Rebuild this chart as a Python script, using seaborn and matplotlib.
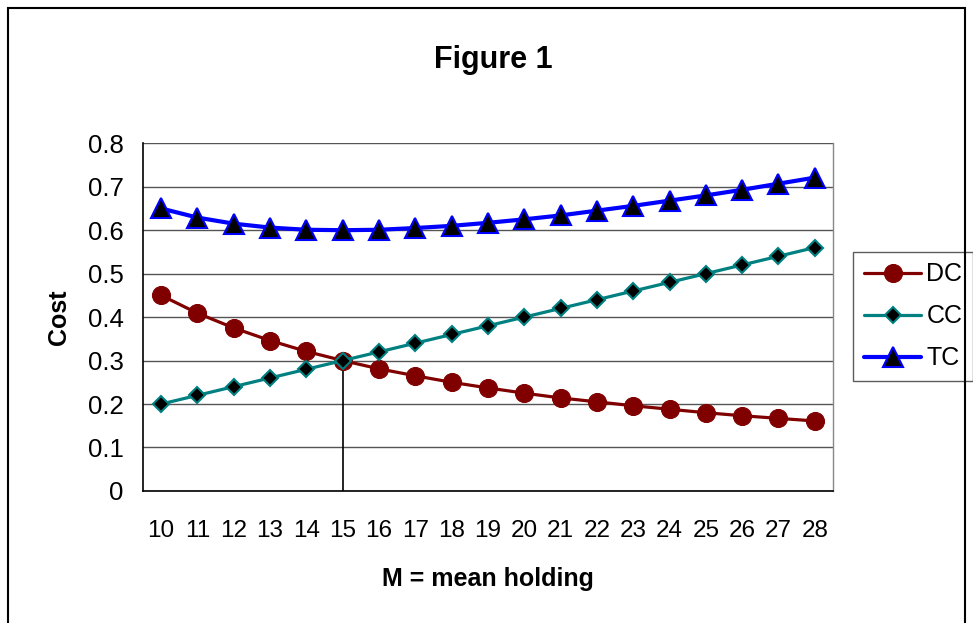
import pandas as pd
import matplotlib.pyplot as plt
import seaborn as sns
import numpy as np

# Datos
M = [10, 11, 12, 13, 14, 15, 16, 17, 18, 19, 20, 21, 22, 23, 24, 25, 26, 27, 28]
DC = [0.450, 0.409, 0.375, 0.346, 0.321, 0.300, 0.281, 0.265, 0.250, 0.237,
      0.225, 0.214, 0.205, 0.196, 0.188, 0.180, 0.173, 0.167, 0.161]
CC = [0.20, 0.22, 0.24, 0.26, 0.28, 0.30, 0.32, 0.34, 0.36, 0.38,
      0.40, 0.42, 0.44, 0.46, 0.48, 0.50, 0.52, 0.54, 0.56]
TC = [0.650, 0.629, 0.615, 0.606, 0.601, 0.600, 0.601, 0.605, 0.610, 0.617,
      0.625, 0.634, 0.645, 0.656, 0.668, 0.680, 0.693, 0.707, 0.721]
optimum_m = 15
optimum_cost = 0.30

df = pd.DataFrame({'pos': np.arange(len(M)), 'M': M, 'DC': DC, 'CC': CC, 'TC': TC})

sns.set_style('white')
plt.rcParams['font.family'] = ['Liberation Sans', 'DejaVu Sans']
plt.rcParams['text.color'] = 'black'
plt.rcParams['axes.labelcolor'] = 'black'
plt.rcParams['xtick.color'] = 'black'
plt.rcParams['ytick.color'] = 'black'

fig = plt.figure(figsize=(9.73, 6.23), dpi=100, facecolor='white')
ax = fig.add_axes([0.147, 0.212, 0.709, 0.558])

# Series
sns.lineplot(data=df, x='pos', y='DC', ax=ax, color='#800000', lw=2.3,
             marker='o', markersize=13, markerfacecolor='#800000',
             markeredgecolor='#800000', label='DC')
sns.lineplot(data=df, x='pos', y='CC', ax=ax, color='#008080', lw=2.3,
             marker='D', markersize=8.5, markerfacecolor='black',
             markeredgecolor='#008080', markeredgewidth=1.5, label='CC')
sns.lineplot(data=df, x='pos', y='TC', ax=ax, color='#0000FF', lw=3,
             marker='^', markersize=14, markerfacecolor='black',
             markeredgecolor='#0000FF', markeredgewidth=1.5, label='TC')

# Línea vertical en el óptimo
opt_pos = M.index(optimum_m)
ax.plot([opt_pos, opt_pos], [0, optimum_cost], color='black', lw=1.2, zorder=1)

# Ejes
ax.set_xlim(-0.5, len(M) - 0.5)
ax.set_ylim(0, 0.8)
ax.set_yticks(np.arange(0, 0.81, 0.1))
ax.set_yticklabels(['0'] + [f'{v:.1f}' for v in np.arange(0.1, 0.81, 0.1)])
ax.set_xticks(np.arange(len(M)))
ax.set_xticklabels([str(m) for m in M])
ax.set_xticks(np.arange(-0.5, len(M), 1), minor=True)
ax.tick_params(axis='x', which='major', length=0, pad=21, labelsize=17.5)
ax.tick_params(axis='x', which='minor', length=6, width=1, color='black', direction='out')
ax.tick_params(axis='y', length=6, width=1, color='black', direction='out', labelsize=18.5, pad=8)
ax.yaxis.grid(True, color='#555555', lw=1)
ax.set_axisbelow(True)

for s in ['left', 'bottom']:
    ax.spines[s].set_color('black')
    ax.spines[s].set_linewidth(1.2)
ax.spines['top'].set_visible(False)
ax.spines['right'].set_color('#888888')
ax.spines['right'].set_linewidth(1)

ax.set_xlabel('M = mean holding', fontsize=18, fontweight='bold', labelpad=18)
ax.set_ylabel('Cost', fontsize=18, fontweight='bold', labelpad=12)

fig.suptitle('Figure 1', fontsize=22, fontweight='bold', x=0.507, y=0.927)

leg = ax.legend(loc='center left', fontsize=18, frameon=True, fancybox=False,
                edgecolor='#333333', handlelength=2.3, labelspacing=0.72,
                borderpad=0.42, handletextpad=0.2, borderaxespad=0)
leg.get_frame().set_linewidth(1)
leg.set_bbox_to_anchor((0.877, 0.492), transform=fig.transFigure)

# Borde exterior
fig.patches.append(plt.Rectangle((0.008, -0.01), 0.984, 0.997, transform=fig.transFigure,
                                 fill=False, edgecolor='black', lw=1.5))

plt.savefig('out.png', dpi=100, facecolor='white')
